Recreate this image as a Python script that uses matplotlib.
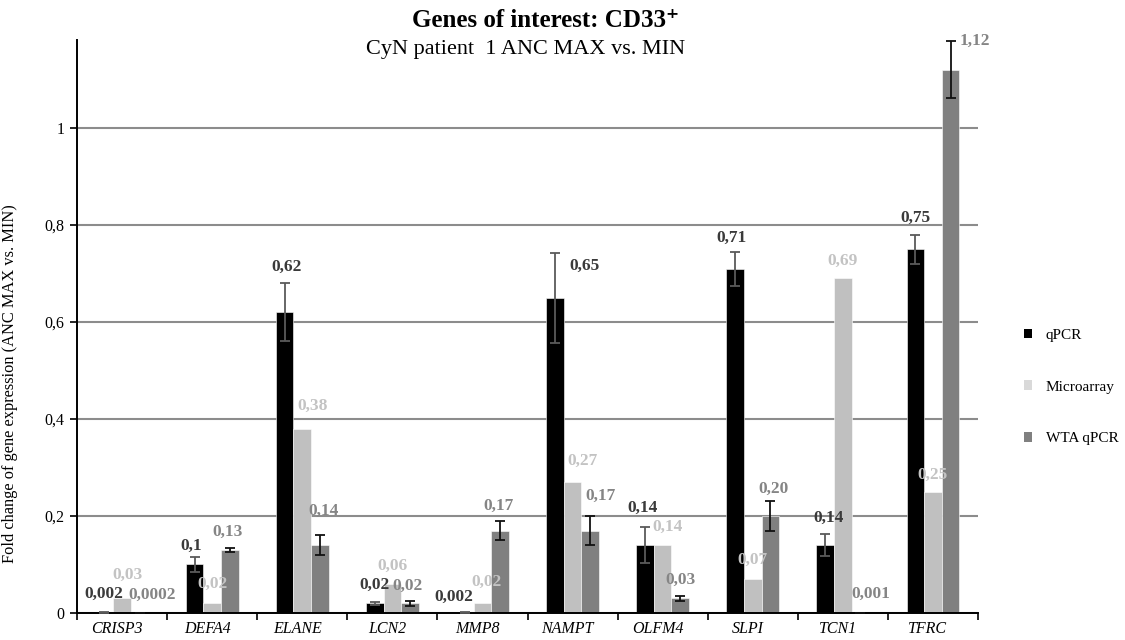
import matplotlib
matplotlib.use("Agg")
import matplotlib.pyplot as plt
import matplotlib.transforms as mtransforms
from matplotlib.patches import Patch
from matplotlib.ticker import FuncFormatter, FixedLocator
import numpy as np

genes = ["CRISP3", "DEFA4", "ELANE", "LCN2", "MMP8",
         "NAMPT", "OLFM4", "SLPI", "TCN1", "TFRC"]

# Value labels as printed above each bar (decimal comma)
qpcr_labels = ["0,002", "0,1", "0,62", "0,02", "0,002",
               "0,65", "0,14", "0,71", "0,14", "0,75"]
micro_labels = ["0,03", "0,02", "0,38", "0,06", "0,02",
                "0,27", "0,14", "0,07", "0,69", "0,25"]
wta_labels = ["0,0002", "0,13", "0,14", "0,02", "0,17",
              "0,17", "0,03", "0,20", "0,001", "1,12"]

# Error bar half-widths
qpcr_err = [0.001, 0.016, 0.06, 0.003, 0.001,
            0.093, 0.037, 0.035, 0.022, 0.03]
wta_err = [0.0, 0.005, 0.02, 0.005, 0.02,
           0.03, 0.005, 0.03, 0.0, 0.058]

series_names = ["qPCR", "Microarray", "WTA qPCR"]


def to_num(labels):
    return np.array([float(s.replace(",", ".")) for s in labels])


qpcr = to_num(qpcr_labels)
micro = to_num(micro_labels)
wta = to_num(wta_labels)

SERIF = ["Liberation Serif", "DejaVu Serif"]
plt.rcParams["font.family"] = SERIF

fig = plt.figure(figsize=(11.25, 6.4), dpi=100)
ax = fig.add_axes([77 / 1125, 1 - 613 / 640, (978 - 77) / 1125, (613 - 40) / 640])

x = np.arange(len(genes))
w = 0.195
bar_cols = ["#000000", "#c0c0c0", "#808080"]
lab_cols = ["#3a3a3a", "#c3c3c3", "#858585"]

ax.set_axisbelow(True)
ax.yaxis.grid(True, color="#8c8c8c", linewidth=1.5)

ax.bar(x - w, qpcr, w, color=bar_cols[0], edgecolor="white", linewidth=0.4, zorder=2)
ax.bar(x, micro, w, color=bar_cols[1], edgecolor="white", linewidth=0.4, zorder=2)
ax.bar(x + w, wta, w, color=bar_cols[2], edgecolor="white", linewidth=0.4, zorder=2)

ax.errorbar(x - w, qpcr, yerr=qpcr_err, fmt="none", ecolor="#5a5a5a",
            elinewidth=1.3, capsize=3.8, capthick=1.3, zorder=3)
ax.errorbar(x + w, wta, yerr=wta_err, fmt="none", ecolor="#111111",
            elinewidth=1.3, capsize=3.8, capthick=1.3, zorder=3)

# label nudges in pixels (dx, dy) from the default spot above each bar,
# keyed by (series index, gene index)
nudges = {
    (0, 0): (-1, 1), (0, 1): (-3, -6), (0, 2): (2, -1), (0, 4): (-11, -2),
    (0, 5): (30, -30), (0, 6): (-3, 2), (0, 7): (-4, -3), (0, 8): (3, 0),
    (1, 0): (5, 7), (1, 1): (0, 2), (1, 2): (10, 6), (1, 3): (0, 1),
    (1, 4): (4, 4), (1, 5): (10, 4), (1, 6): (5, 1), (1, 7): (0, 2),
    (2, 0): (13, 1), (2, 1): (-2, -1), (2, 2): (4, 7), (2, 3): (-2, -2),
    (2, 4): (-2, -2), (2, 5): (10, 3), (2, 6): (0, -1), (2, 7): (3, -4),
    (2, 8): (10, 2), (2, 9): (24, -16),
}

px = 72.0 / fig.dpi
for s, (vals, errs, labels) in enumerate([(qpcr, qpcr_err, qpcr_labels),
                                           (micro, [0] * 10, micro_labels),
                                           (wta, wta_err, wta_labels)]):
    for i in range(len(genes)):
        xi = x[i] + (s - 1) * w
        top = vals[i] + errs[i]
        dx, dy = nudges.get((s, i), (0, 0))
        ax.annotate(labels[i], (xi, top), xytext=(dx * px, (17 + dy) * px),
                    textcoords="offset points", ha="center", va="center",
                    fontsize=12.5, fontweight="bold", color=lab_cols[s], zorder=4)

ax.set_xlim(-0.5, len(genes) - 0.5)
ax.set_ylim(0, 1.181)

ax.set_yticks(np.arange(0, 1.01, 0.2))
ax.yaxis.set_major_formatter(FuncFormatter(
    lambda v, p: "0" if abs(v) < 1e-9 else ("1" if abs(v - 1) < 1e-9 else f"{v:.1f}".replace(".", ","))))
ax.tick_params(axis="y", length=5, width=1.2, labelsize=11.5, pad=4)

ax.set_xticks(x)
ax.set_xticklabels(genes, fontstyle="italic", fontsize=11.5)
ax.tick_params(axis="x", which="major", length=0, pad=6)
shift = mtransforms.ScaledTranslation(-5 / 100, 0, fig.dpi_scale_trans)
for lbl in ax.get_xticklabels():
    lbl.set_transform(lbl.get_transform() + shift)
ax.xaxis.set_minor_locator(FixedLocator(np.arange(-0.5, len(genes) - 0.4, 1.0)))
ax.tick_params(axis="x", which="minor", length=5, width=1.2)

for side in ["top", "right"]:
    ax.spines[side].set_visible(False)
for side in ["left", "bottom"]:
    ax.spines[side].set_linewidth(1.4)
    ax.spines[side].set_color("black")

ax.set_ylabel("Fold change of gene expression (ANC MAX vs. MIN)", fontsize=11.8)
ax.yaxis.set_label_coords(-59 / 901, (613 - 384) / 573)

fig.text(546 / 1125, 1 - 27 / 640, "Genes of interest: CD33\u207a", ha="center", va="baseline",
         fontsize=18, fontweight="bold")
fig.text(526 / 1125, 1 - 54 / 640, "CyN patient  1 ANC MAX vs. MIN", ha="center", va="baseline",
         fontsize=16)

handles = [Patch(facecolor=bar_cols[0]), Patch(facecolor="#d9d9d9"), Patch(facecolor=bar_cols[2])]
fig.legend(handles, series_names, loc="center left", bbox_to_anchor=(1010 / 1125, 1 - 387 / 640),
           frameon=False, fontsize=11, handlelength=0.55, handleheight=0.55, handletextpad=0.9,
           labelspacing=2.55)

fig.savefig("out.png", dpi=100)
